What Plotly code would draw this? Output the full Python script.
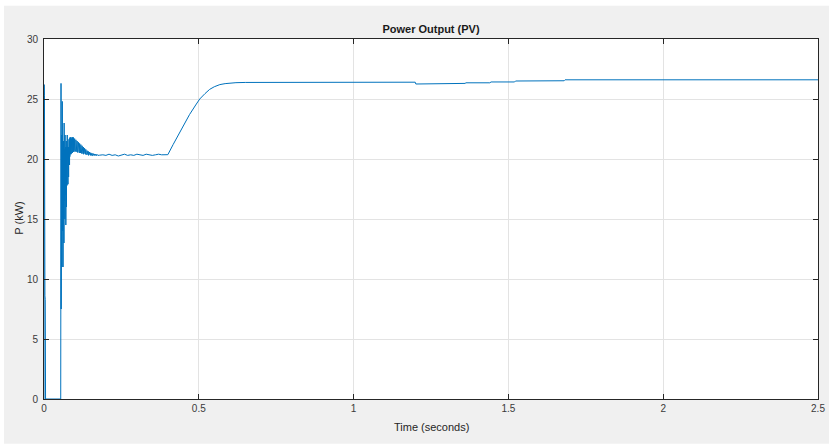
import plotly.graph_objects as go

# ---- data ----
# start-up spike and zero interval
t_start = [0.0, 0.0005, 0.0015, 0.003, 0.004, 0.005, 0.054]
p_start = [0.0, 26.2, 25.3, 8.6, 8.3, 0.0, 0.0]

# violent start-up oscillation
t_osc = [0.0550, 0.0555, 0.0560, 0.0565, 0.0570, 0.0575, 0.0580, 0.0585, 0.0590, 0.0595,
         0.0600, 0.0605, 0.0610, 0.0615, 0.0620, 0.0625, 0.0630, 0.0635, 0.0640, 0.0645,
         0.0650, 0.0655, 0.0660, 0.0665, 0.0670, 0.0675, 0.0680, 0.0685, 0.0690, 0.0695,
         0.0700, 0.0705, 0.0710, 0.0715, 0.0720, 0.0725, 0.0730, 0.0735, 0.0740, 0.0745,
         0.0750, 0.0755, 0.0760, 0.0765, 0.0770, 0.0775, 0.0780, 0.0785, 0.0790, 0.0795,
         0.0800, 0.0805, 0.0810, 0.0815, 0.0820, 0.0825, 0.0830, 0.0835, 0.0840, 0.0845,
         0.0850, 0.0855, 0.0860, 0.0865, 0.0870, 0.0875, 0.0880, 0.0885, 0.0890, 0.0895,
         0.0900, 0.0905, 0.0910, 0.0915, 0.0920, 0.0925, 0.0930, 0.0935, 0.0940, 0.0945]
p_osc = [26.3, 7.5, 17.0, 20.5, 13.0, 22.0, 11.0, 19.0, 24.8, 12.5,
         21.0, 14.0, 20.5, 11.0, 19.5, 13.5, 21.5, 15.0, 20.0, 13.0,
         23.0, 14.4, 22.5, 16.5, 20.8, 15.0, 22.0, 16.0, 21.5, 17.0,
         21.0, 14.5, 20.5, 18.0, 21.5, 16.0, 20.0, 18.5, 21.0, 17.8,
         22.0, 18.0, 21.0, 19.0, 21.5, 17.9, 20.5, 19.5, 21.0, 18.5,
         21.6, 19.8, 21.2, 20.0, 21.7, 19.5, 21.5, 20.2, 21.8, 20.3,
         21.6, 20.4, 21.8, 20.5, 21.7, 20.4, 21.8, 20.5, 21.7, 20.5,
         21.8, 20.6, 21.7, 20.5, 21.8, 20.6, 21.75, 20.6, 21.8, 20.6]

# decaying ripple
t_ripple = [0.095, 0.096, 0.097, 0.098, 0.099, 0.100, 0.101, 0.102, 0.103, 0.104,
            0.105, 0.106, 0.107, 0.108, 0.109, 0.110, 0.111, 0.112, 0.113, 0.114,
            0.115, 0.116, 0.117, 0.118, 0.119, 0.120, 0.121, 0.122, 0.123, 0.124,
            0.125, 0.126, 0.127, 0.128, 0.129, 0.130, 0.131, 0.132, 0.133, 0.134,
            0.135, 0.136, 0.137, 0.138, 0.139, 0.140, 0.141, 0.142, 0.143, 0.144,
            0.145, 0.146, 0.147, 0.148, 0.149, 0.150, 0.151, 0.152, 0.153, 0.154,
            0.155, 0.156, 0.157, 0.158, 0.159, 0.160, 0.161, 0.162, 0.163, 0.164,
            0.165, 0.166, 0.167, 0.168, 0.169, 0.170, 0.171, 0.172, 0.173, 0.174]
p_ripple = [21.8, 20.6, 21.75, 20.7, 21.7, 20.6, 21.65, 20.65, 21.6, 20.6,
            21.55, 20.6, 21.5, 20.55, 21.45, 20.6, 21.4, 20.55, 21.35, 20.5,
            21.3, 20.55, 21.25, 20.5, 21.2, 20.5, 21.15, 20.45, 21.1, 20.5,
            21.05, 20.45, 21.0, 20.4, 20.95, 20.45, 20.9, 20.4, 20.85, 20.4,
            20.8, 20.35, 20.75, 20.4, 20.7, 20.35, 20.67, 20.35, 20.64, 20.3,
            20.6, 20.35, 20.58, 20.3, 20.55, 20.3, 20.52, 20.3, 20.5, 20.3,
            20.48, 20.28, 20.46, 20.3, 20.45, 20.3, 20.43, 20.28, 20.42, 20.3,
            20.41, 20.3, 20.4, 20.3, 20.4, 20.28, 20.39, 20.3, 20.38, 20.3]

# plateau, ramp and steady state
t_main = [0.18, 0.19, 0.20, 0.21, 0.22, 0.23, 0.24, 0.25, 0.26, 0.27, 0.28, 0.29, 0.30,
          0.31, 0.32, 0.33, 0.34, 0.35, 0.36, 0.37, 0.38, 0.39, 0.40,
          0.417, 0.433, 0.449, 0.47, 0.49, 0.503, 0.52, 0.535, 0.55, 0.568,
          0.585, 0.60, 0.62, 0.65, 0.70, 0.80, 0.90, 1.00, 1.10, 1.199,
          1.201, 1.28, 1.283, 1.36, 1.363, 1.44, 1.444, 1.52, 1.523, 1.68,
          1.683, 2.0, 2.5]
p_main = [20.32, 20.35, 20.3, 20.4, 20.3, 20.35, 20.25, 20.3, 20.4, 20.3, 20.35, 20.3, 20.4,
          20.35, 20.3, 20.4, 20.35, 20.3, 20.35, 20.4, 20.35, 20.35, 20.36,
          21.2, 21.95, 22.7, 23.7, 24.5, 25.0, 25.45, 25.8, 26.02, 26.2,
          26.28, 26.33, 26.36, 26.38, 26.38, 26.38, 26.39, 26.39, 26.4, 26.4,
          26.25, 26.25, 26.3, 26.3, 26.35, 26.35, 26.42, 26.42, 26.5, 26.52,
          26.6, 26.6, 26.6]

x_ticks = [0, 0.5, 1, 1.5, 2, 2.5]
x_ticklabels = ["0", "0.5", "1", "1.5", "2", "2.5"]
y_ticks = [0, 5, 10, 15, 20, 25, 30]

t = t_start + t_osc + t_ripple + t_main
p = p_start + p_osc + p_ripple + p_main

# plot-area geometry in pixels
L, R, T, B = 44, 818, 39.3, 399.3
W, H = R - L, B - T

fig = go.Figure()
fig.add_trace(go.Scatter(x=t, y=p, mode="lines",
                         line=dict(color="#0072BD", width=1),
                         showlegend=False, hoverinfo="skip"))

axis_common = dict(
    showline=True, linecolor="#262626", linewidth=1, mirror="ticks",
    ticks="inside", ticklen=5, tickcolor="#262626", tickwidth=1,
    showgrid=True, gridcolor="#e3e3e3", gridwidth=1, zeroline=False,
    automargin=False,
    tickfont=dict(family="Liberation Sans, Arial, sans-serif", size=10, color="#3a3a3a"),
)

fig.update_layout(
    width=829, height=444,
    margin=dict(l=L, r=829 - R, t=T, b=444 - B, autoexpand=False),
    paper_bgcolor="white", plot_bgcolor="white",
    font=dict(family="Liberation Sans, Arial, sans-serif", color="#262626"),
    title=dict(text="<b>Power Output (PV)</b>", x=431 / 829, xanchor="center",
               y=1 - 29 / 444, yanchor="middle", automargin=False,
               font=dict(size=11, color="#1a1a1a")),
    xaxis=dict(range=[0, 2.5], tickvals=x_ticks, ticktext=x_ticklabels,
               **axis_common),
    yaxis=dict(range=[0, 30], tickvals=y_ticks, ticklabelstandoff=3,
               **axis_common),
    annotations=[
        dict(text="Time (seconds)", xref="paper", yref="paper",
             x=0.5, y=(B - 427) / H, xanchor="center", yanchor="middle",
             showarrow=False, font=dict(size=11, color="#262626")),
        dict(text="P (kW)", xref="paper", yref="paper",
             x=(19 - L) / W, y=(B - 219) / H, xanchor="center", yanchor="middle",
             textangle=-90, showarrow=False, font=dict(size=11, color="#262626")),
    ],
    shapes=[dict(type="rect", xref="paper", yref="paper", layer="below",
                 x0=(4 - L) / W, x1=(829 - L) / W,
                 y0=(B - 444) / H, y1=(B - 6) / H,
                 fillcolor="#f0f0f0", line=dict(width=0)),
            dict(type="rect", xref="paper", yref="paper", layer="below",
                 x0=0, x1=1, y0=0, y1=1,
                 fillcolor="white", line=dict(width=0))],
)

fig.write_html("out.html", config={"displayModeBar": False},
               post_script="document.body.style.margin='0';document.body.style.padding='0';")
